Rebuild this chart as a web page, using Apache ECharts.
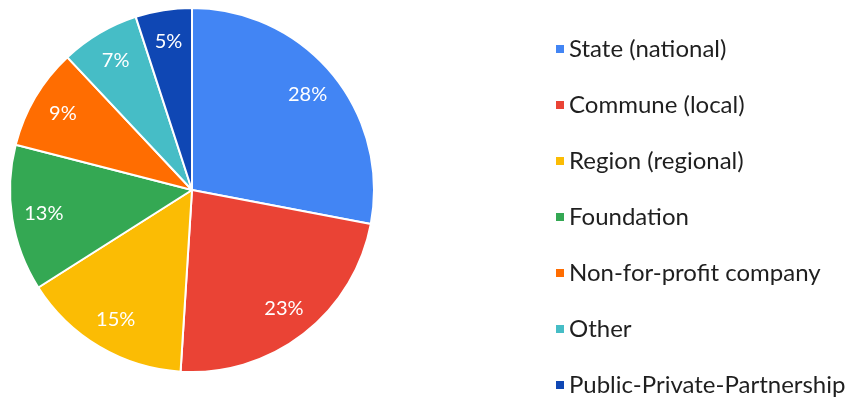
<!DOCTYPE html>
<html>
<head>
<meta charset="utf-8">
<script src="https://cdn.jsdelivr.net/npm/echarts@6/dist/echarts.min.js"></script>
<style>
  html, body { margin: 0; padding: 0; background: #ffffff; }
  #chart { width: 849px; height: 397px; }
</style>
</head>
<body>
<div id="chart"></div>
<script>
// Funding sources, share of total (%)
const categories = [
  'State (national)',
  'Commune (local)',
  'Region (regional)',
  'Foundation',
  'Non-for-profit company',
  'Other',
  'Public-Private-Partnership'
];
const shares = [28, 23, 15, 13, 9, 7, 5];
const colors = ['#4285F4', '#EA4335', '#FBBC04', '#34A853', '#FF6D01', '#46BDC6', '#0F47B4'];

const FONT = 'Lato, "Open Sans", sans-serif';
const CENTER = [192, 190];
const R = 182;

const sliceData = categories.map((name, i) => ({
  name,
  value: shares[i],
  itemStyle: { color: colors[i] }
}));

const chart = echarts.init(document.getElementById('chart'), null, { renderer: 'canvas' });
chart.setOption({
  animation: false,
  color: colors,
  legend: {
    orient: 'vertical',
    left: 549,
    top: 32,
    height: 365,
    icon: 'rect',
    itemWidth: 10,
    itemHeight: 10,
    itemGap: 32,
    textStyle: { fontFamily: FONT, fontSize: 24, lineHeight: 24, color: '#1f1f1f', padding: [0, 0, 0, -1] },
    data: categories
  },
  series: [
    {
      type: 'pie',
      center: CENTER,
      radius: R,
      startAngle: 90,
      clockwise: true,
      avoidLabelOverlap: false,
      itemStyle: { borderColor: '#ffffff', borderWidth: 2 },
      label: { show: false },
      labelLine: { show: false },
      emphasis: { disabled: true },
      data: sliceData
    },
    {
      // transparent ring carrying the percentage labels at ~80% of the radius
      type: 'pie',
      center: CENTER,
      radius: [112, R],
      startAngle: 90,
      clockwise: true,
      silent: true,
      legendHoverLink: false,
      itemStyle: { color: 'rgba(0,0,0,0)', borderWidth: 0 },
      label: {
        show: true,
        position: 'inside',
        formatter: p => p.value + '%',
        color: '#ffffff',
        fontFamily: FONT,
        fontSize: 20
      },
      labelLine: { show: false },
      emphasis: { disabled: true },
      data: categories.map((name, i) => ({ name: name + ' ', value: shares[i] }))
    }
  ]
});
</script>
</body>
</html>
